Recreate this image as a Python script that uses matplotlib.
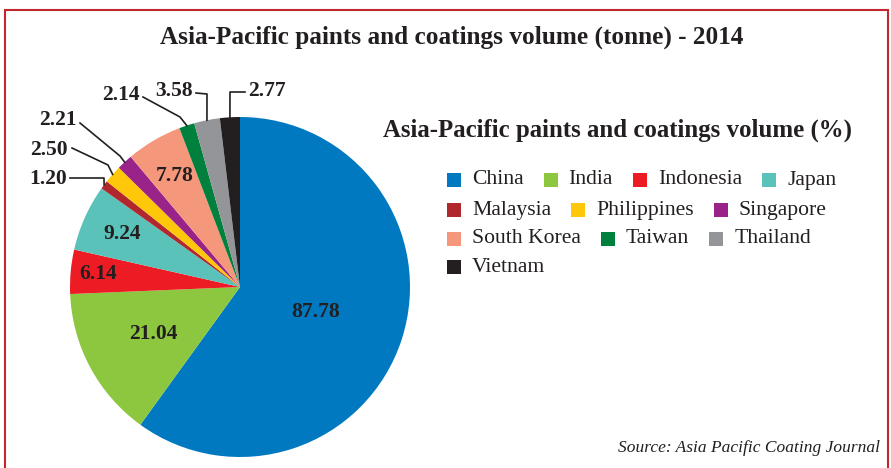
import numpy as np
import matplotlib.pyplot as plt
from matplotlib.patches import Rectangle

countries = ['China', 'India', 'Indonesia', 'Japan', 'Malaysia', 'Philippines',
             'Singapore', 'South Korea', 'Taiwan', 'Thailand', 'Vietnam']
volume = [87.78, 21.04, 6.14, 9.24, 1.20, 2.50, 2.21, 7.78, 2.14, 3.58, 2.77]
colors = ['#0079C1', '#8DC63F', '#ED1C24', '#5BC2BA', '#B0272D', '#FFC709',
          '#9A2389', '#F4977A', '#00803D', '#939598', '#231F20']
legend_rows = [['China', 'India', 'Indonesia', 'Japan'],
               ['Malaysia', 'Philippines', 'Singapore'],
               ['South Korea', 'Taiwan', 'Thailand'],
               ['Vietnam']]

title = 'Asia-Pacific paints and coatings volume (tonne) - 2014'
legend_title = 'Asia-Pacific paints and coatings volume (%)'
source = 'Source: Asia Pacific Coating Journal'

plt.rcParams['font.family'] = 'Liberation Serif'
W, H = 891, 468
fig = plt.figure(figsize=(W / 100, H / 100), dpi=100)

def fx(x):
    return x / W

def fy(y):
    return 1 - y / H

# pie placed by pixel centre / radius
cx, cy, r = 240, 287, 170
ax = fig.add_axes([fx(cx - r), fy(cy + r), 2 * r / W, 2 * r / H])
wedges, _ = ax.pie(volume, colors=colors, startangle=90, counterclock=False,
                   wedgeprops=dict(linewidth=0))
ax.set_xlim(-1, 1)
ax.set_ylim(-1, 1)
ax.axis('off')

def to_data(x, y):
    return (x - cx) / r, (cy - y) / r

lab_size = 15.5
# labels inside the slices (radius as fraction)
inside = {'China': 0.47, 'India': 0.58, 'Indonesia': 0.84, 'Japan': 0.76, 'South Korea': 0.76}
# outside labels: text anchor px, ha, elbow px
outside = {'Malaysia': ((67, 179), 'right', [(70, 178), (104, 178)]),
           'Philippines': ((68, 150), 'right', [(72, 148), (108, 165)]),
           'Singapore': ((77, 120), 'right', [(80, 123), (120, 156)]),
           'Taiwan': ((140, 95), 'right', [(143, 97), (180, 117)]),
           'Thailand': ((193, 91), 'right', [(196, 93), (207, 94)]),
           'Vietnam': ((248, 91), 'left', [(245, 92), (230, 92)])}

for w, name, v in zip(wedges, countries, volume):
    mid = np.deg2rad((w.theta1 + w.theta2) / 2)
    txt = f'{v:.2f}'
    if name in inside:
        rr = inside[name]
        ax.text(rr * np.cos(mid), rr * np.sin(mid), txt, ha='center', va='center',
                fontsize=lab_size, fontweight='bold', color='#231F20')
    else:
        (tx, ty), ha, elbow = outside[name]
        pts = [to_data(*p) for p in elbow] + [(np.cos(mid), np.sin(mid))]
        xs, ys = zip(*pts)
        ax.plot(xs, ys, color='#231F20', lw=1.2, clip_on=False)
        ax.text(*to_data(tx, ty), txt, ha=ha, va='center', fontsize=lab_size,
                fontweight='bold', color='#231F20', clip_on=False)

fig.text(fx(452), fy(37), title, ha='center', va='center', fontsize=18.2,
         fontweight='bold', color='#231F20')
fig.text(fx(383), fy(130), legend_title, ha='left', va='center', fontsize=17.9,
         fontweight='bold', color='#231F20')

# legend drawn as a flowing list
renderer = fig.canvas.get_renderer()
row_y = [180, 210, 239, 267]
sq = 14
for names, yy in zip(legend_rows, row_y):
    x = 447
    for name in names:
        c = colors[countries.index(name)]
        fig.patches.append(Rectangle((fx(x), fy(yy + sq / 2)), sq / W, sq / H,
                                     transform=fig.transFigure, color=c, lw=0))
        t = fig.text(fx(x + sq + 11), fy(yy), name, ha='left', va='center',
                     fontsize=15.6, color='#231F20')
        bb = t.get_window_extent(renderer)
        x = bb.x1 + 20

fig.text(fx(880), fy(448), source, ha='right', va='center', fontsize=12.5,
         style='italic', color='#231F20')

# red frame
fig.patches.append(Rectangle((fx(5), fy(490)), fx(883), 480 / H, transform=fig.transFigure,
                             fill=False, edgecolor='#C1272D', lw=1.5, clip_on=False))

fig.savefig('out.png', dpi=100)
